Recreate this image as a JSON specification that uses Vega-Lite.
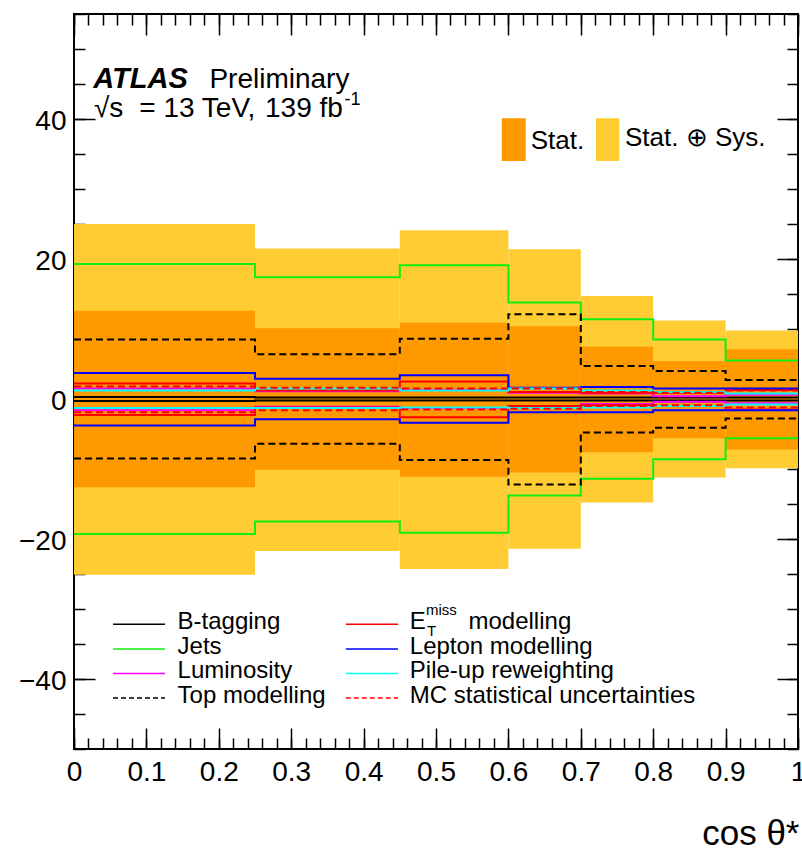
{
  "$schema": "https://vega.github.io/schema/vega-lite/v6.json",
  "width": 724,
  "height": 735,
  "autosize": "none",
  "padding": {"left": 74, "top": 14, "right": 4, "bottom": 102},
  "background": "white",
  "config": {
    "view": {"stroke": "black", "strokeWidth": 2},
    "font": "Liberation Sans, Arial, Helvetica, sans-serif",
    "axis": {
      "grid": false,
      "domain": false,
      "zindex": 2,
      "tickColor": "black",
      "tickWidth": 1.5,
      "labelColor": "black",
      "labelFont": "Liberation Sans, Arial, Helvetica, sans-serif",
      "labelFontSize": 28,
      "labelOverlap": false,
      "labelFlush": false,
      "title": null
    }
  },
  "datasets": {
    "bins": [
      {"lo": 0.0, "hi": 0.25, "stat_up": 12.6, "stat_dn": -12.6, "tot_up": 25.0, "tot_dn": -25.1},
      {"lo": 0.25, "hi": 0.45, "stat_up": 10.1, "stat_dn": -10.1, "tot_up": 21.5, "tot_dn": -21.7},
      {"lo": 0.45, "hi": 0.6, "stat_up": 10.9, "stat_dn": -11.1, "tot_up": 24.1, "tot_dn": -24.3},
      {"lo": 0.6, "hi": 0.7, "stat_up": 10.4, "stat_dn": -10.5, "tot_up": 21.4, "tot_dn": -21.4},
      {"lo": 0.7, "hi": 0.8, "stat_up": 7.5, "stat_dn": -7.6, "tot_up": 14.7, "tot_dn": -14.8},
      {"lo": 0.8, "hi": 0.9, "stat_up": 5.4, "stat_dn": -5.6, "tot_up": 11.2, "tot_dn": -11.2},
      {"lo": 0.9, "hi": 1.0, "stat_up": 7.1, "stat_dn": -7.2, "tot_up": 9.8, "tot_dn": -9.9}
    ],
    "syst": [
      {"sys": "B-tagging", "x": 0.0, "up": 0.3, "dn": -0.3},
      {"sys": "B-tagging", "x": 0.25, "up": 0.2, "dn": -0.2},
      {"sys": "B-tagging", "x": 0.45, "up": 0.2, "dn": -0.2},
      {"sys": "B-tagging", "x": 0.6, "up": 0.2, "dn": -0.2},
      {"sys": "B-tagging", "x": 0.7, "up": 0.2, "dn": -0.2},
      {"sys": "B-tagging", "x": 0.8, "up": 0.2, "dn": -0.2},
      {"sys": "B-tagging", "x": 0.9, "up": 0.2, "dn": -0.2},
      {"sys": "B-tagging", "x": 1.0, "up": 0.2, "dn": -0.2},
      {"sys": "Jets", "x": 0.0, "up": 19.3, "dn": -19.3},
      {"sys": "Jets", "x": 0.25, "up": 17.4, "dn": -17.5},
      {"sys": "Jets", "x": 0.45, "up": 19.1, "dn": -19.1},
      {"sys": "Jets", "x": 0.6, "up": 13.8, "dn": -13.8},
      {"sys": "Jets", "x": 0.7, "up": 11.4, "dn": -11.4},
      {"sys": "Jets", "x": 0.8, "up": 8.5, "dn": -8.6},
      {"sys": "Jets", "x": 0.9, "up": 5.5, "dn": -5.6},
      {"sys": "Jets", "x": 1.0, "up": 5.5, "dn": -5.6},
      {"sys": "Luminosity", "x": 0.0, "up": 1.5, "dn": -1.6},
      {"sys": "Luminosity", "x": 0.25, "up": 1.1, "dn": -1.1},
      {"sys": "Luminosity", "x": 0.45, "up": 1.3, "dn": -1.3},
      {"sys": "Luminosity", "x": 0.6, "up": 0.9, "dn": -1.0},
      {"sys": "Luminosity", "x": 0.7, "up": 0.8, "dn": -0.7},
      {"sys": "Luminosity", "x": 0.8, "up": 0.4, "dn": -0.4},
      {"sys": "Luminosity", "x": 0.9, "up": 0.6, "dn": -0.6},
      {"sys": "Luminosity", "x": 1.0, "up": 0.6, "dn": -0.6},
      {"sys": "Top modelling", "x": 0.0, "up": 8.5, "dn": -8.5},
      {"sys": "Top modelling", "x": 0.25, "up": 6.4, "dn": -6.4},
      {"sys": "Top modelling", "x": 0.45, "up": 8.6, "dn": -8.7},
      {"sys": "Top modelling", "x": 0.6, "up": 12.1, "dn": -12.2},
      {"sys": "Top modelling", "x": 0.7, "up": 4.7, "dn": -4.8},
      {"sys": "Top modelling", "x": 0.8, "up": 4.0, "dn": -4.1},
      {"sys": "Top modelling", "x": 0.9, "up": 2.7, "dn": -2.8},
      {"sys": "Top modelling", "x": 1.0, "up": 2.7, "dn": -2.8},
      {"sys": "Etmiss modelling", "x": 0.0, "up": 2.2, "dn": -2.3},
      {"sys": "Etmiss modelling", "x": 0.25, "up": 1.2, "dn": -1.2},
      {"sys": "Etmiss modelling", "x": 0.45, "up": 2.5, "dn": -2.6},
      {"sys": "Etmiss modelling", "x": 0.6, "up": 1.0, "dn": -1.0},
      {"sys": "Etmiss modelling", "x": 0.7, "up": 0.9, "dn": -0.9},
      {"sys": "Etmiss modelling", "x": 0.8, "up": 0.9, "dn": -1.0},
      {"sys": "Etmiss modelling", "x": 0.9, "up": 1.3, "dn": -1.5},
      {"sys": "Etmiss modelling", "x": 1.0, "up": 1.3, "dn": -1.5},
      {"sys": "Lepton modelling", "x": 0.0, "up": 3.7, "dn": -3.8},
      {"sys": "Lepton modelling", "x": 0.25, "up": 2.9, "dn": -2.9},
      {"sys": "Lepton modelling", "x": 0.45, "up": 3.4, "dn": -3.4},
      {"sys": "Lepton modelling", "x": 0.6, "up": 1.6, "dn": -1.9},
      {"sys": "Lepton modelling", "x": 0.7, "up": 1.7, "dn": -1.9},
      {"sys": "Lepton modelling", "x": 0.8, "up": 1.5, "dn": -1.6},
      {"sys": "Lepton modelling", "x": 0.9, "up": 1.5, "dn": -1.6},
      {"sys": "Lepton modelling", "x": 1.0, "up": 1.5, "dn": -1.6},
      {"sys": "Pile-up reweighting", "x": 0.0, "up": 1.2, "dn": -1.3},
      {"sys": "Pile-up reweighting", "x": 0.25, "up": 1.5, "dn": -1.3},
      {"sys": "Pile-up reweighting", "x": 0.45, "up": 1.2, "dn": -1.2},
      {"sys": "Pile-up reweighting", "x": 0.6, "up": 1.5, "dn": -1.3},
      {"sys": "Pile-up reweighting", "x": 0.7, "up": 1.2, "dn": -1.2},
      {"sys": "Pile-up reweighting", "x": 0.8, "up": 1.0, "dn": -1.0},
      {"sys": "Pile-up reweighting", "x": 0.9, "up": 0.8, "dn": -0.8},
      {"sys": "Pile-up reweighting", "x": 1.0, "up": 0.8, "dn": -0.8},
      {"sys": "MC statistical uncertainties", "x": 0.0, "up": 1.8, "dn": -1.9},
      {"sys": "MC statistical uncertainties", "x": 0.25, "up": 1.6, "dn": -1.6},
      {"sys": "MC statistical uncertainties", "x": 0.45, "up": 1.5, "dn": -1.5},
      {"sys": "MC statistical uncertainties", "x": 0.6, "up": 1.5, "dn": -1.4},
      {"sys": "MC statistical uncertainties", "x": 0.7, "up": 1.0, "dn": -1.0},
      {"sys": "MC statistical uncertainties", "x": 0.8, "up": 0.9, "dn": -0.9},
      {"sys": "MC statistical uncertainties", "x": 0.9, "up": 1.2, "dn": -1.2},
      {"sys": "MC statistical uncertainties", "x": 1.0, "up": 1.2, "dn": -1.2}
    ]
  },
  "resolve": {"axis": {"x": "independent", "y": "independent"}},
  "layer": [
    {
      "data": {"name": "bins"},
      "mark": {"type": "rect", "color": "#ffcc33"},
      "encoding": {
        "x": {"field": "lo", "type": "quantitative", "scale": {"domain": [0, 1], "nice": false, "zero": false},
              "axis": {"orient": "bottom", "values": [0, 0.1, 0.2, 0.3, 0.4, 0.5, 0.6, 0.7, 0.8, 0.9, 1], "format": "~g",
                       "tickSize": -21, "labelPadding": 30, "title": "cos θ*", "titleFontSize": 35, "titleFontWeight": "normal",
                       "titleColor": "black", "titleAlign": "right", "titleAnchor": "end", "titleBaseline": "alphabetic",
                       "titleX": 725, "titleY": 95}},
        "x2": {"field": "hi"},
        "y": {"field": "tot_dn", "type": "quantitative", "scale": {"domain": [-50, 55], "nice": false, "zero": false},
              "axis": {"orient": "left", "values": [-40, -20, 0, 20, 40], "tickSize": -21, "labelPadding": 29, "labelOffset": 2}},
        "y2": {"field": "tot_up"}
      }
    },
    {
      "data": {"name": "bins"},
      "mark": {"type": "rect", "color": "#ff9900"},
      "encoding": {
        "x": {"field": "lo", "type": "quantitative",
              "axis": {"orient": "bottom", "values": [0, 0.02, 0.04, 0.06, 0.08, 0.1, 0.12, 0.14, 0.16, 0.18, 0.2, 0.22, 0.24, 0.26, 0.28, 0.3, 0.32, 0.34, 0.36, 0.38, 0.4, 0.42, 0.44, 0.46, 0.48, 0.5, 0.52, 0.54, 0.56, 0.58, 0.6, 0.62, 0.64, 0.66, 0.68, 0.7, 0.72, 0.74, 0.76, 0.78, 0.8, 0.82, 0.84, 0.86, 0.88, 0.9, 0.92, 0.94, 0.96, 0.98, 1], "tickSize": -11, "labels": false}},
        "x2": {"field": "hi"},
        "y": {"field": "stat_dn", "type": "quantitative",
              "axis": {"orient": "left", "values": [-50, -45, -40, -35, -30, -25, -20, -15, -10, -5, 0, 5, 10, 15, 20, 25, 30, 35, 40, 45, 50, 55], "tickSize": -11, "labels": false}},
        "y2": {"field": "stat_up"}
      }
    },
    {
      "data": {"name": "syst"},
      "transform": [
        {"filter": "datum.sys !== 'Top modelling' && datum.sys !== 'MC statistical uncertainties'"},
        {"fold": ["up", "dn"], "as": ["side", "v"]}
      ],
      "mark": {"type": "line", "interpolate": "step-after", "strokeWidth": 2},
      "encoding": {
        "x": {"field": "x", "type": "quantitative",
              "axis": {"orient": "top", "values": [0, 0.1, 0.2, 0.3, 0.4, 0.5, 0.6, 0.7, 0.8, 0.9, 1], "tickSize": -21, "labels": false}},
        "y": {"field": "v", "type": "quantitative",
              "axis": {"orient": "right", "values": [-40, -20, 0, 20, 40], "tickSize": -21, "labels": false}},
        "color": {"field": "sys", "type": "nominal", "legend": null,
                  "scale": {"domain": ["B-tagging", "Jets", "Luminosity", "Top modelling", "Etmiss modelling", "Lepton modelling", "Pile-up reweighting", "MC statistical uncertainties"],
                            "range": ["#000000", "#11ee11", "#ff00ff", "#000000", "#ff0000", "#0000ff", "#00ffff", "#ff0000"]}},
        "detail": {"field": "side"}
      }
    },
    {
      "data": {"name": "syst"},
      "transform": [
        {"filter": "datum.sys === 'Top modelling' || datum.sys === 'MC statistical uncertainties'"},
        {"fold": ["up", "dn"], "as": ["side", "v"]}
      ],
      "mark": {"type": "line", "interpolate": "step-after", "strokeWidth": 2, "strokeDash": [7, 4]},
      "encoding": {
        "x": {"field": "x", "type": "quantitative",
              "axis": {"orient": "top", "values": [0, 0.02, 0.04, 0.06, 0.08, 0.1, 0.12, 0.14, 0.16, 0.18, 0.2, 0.22, 0.24, 0.26, 0.28, 0.3, 0.32, 0.34, 0.36, 0.38, 0.4, 0.42, 0.44, 0.46, 0.48, 0.5, 0.52, 0.54, 0.56, 0.58, 0.6, 0.62, 0.64, 0.66, 0.68, 0.7, 0.72, 0.74, 0.76, 0.78, 0.8, 0.82, 0.84, 0.86, 0.88, 0.9, 0.92, 0.94, 0.96, 0.98, 1], "tickSize": -11, "labels": false}},
        "y": {"field": "v", "type": "quantitative",
              "axis": {"orient": "right", "values": [-50, -45, -40, -35, -30, -25, -20, -15, -10, -5, 0, 5, 10, 15, 20, 25, 30, 35, 40, 45, 50, 55], "tickSize": -11, "labels": false}},
        "color": {"field": "sys", "type": "nominal", "legend": null},
        "detail": {"field": "side"}
      }
    },

    {"data": {"values": [{}]}, "mark": {"type": "text", "text": "ATLAS", "fontSize": 29, "fontWeight": "bold", "fontStyle": "italic", "align": "left", "baseline": "alphabetic", "color": "black"},
     "encoding": {"x": {"datum": 0.0267, "type": "quantitative", "axis": null}, "y": {"datum": 44.4, "type": "quantitative", "axis": null}}},
    {"data": {"values": [{}]}, "mark": {"type": "text", "text": "Preliminary", "fontSize": 28, "align": "left", "baseline": "alphabetic", "color": "black"},
     "encoding": {"x": {"datum": 0.187, "type": "quantitative", "axis": null}, "y": {"datum": 44.4, "type": "quantitative", "axis": null}}},
    {"data": {"values": [{}]}, "mark": {"type": "text", "text": "√s", "fontSize": 28, "align": "left", "baseline": "alphabetic", "color": "black"},
     "encoding": {"x": {"datum": 0.0276, "type": "quantitative", "axis": null}, "y": {"datum": 40.3, "type": "quantitative", "axis": null}}},
    {"data": {"values": [{}]}, "mark": {"type": "text", "text": "= 13 TeV,", "fontSize": 28, "align": "left", "baseline": "alphabetic", "color": "black"},
     "encoding": {"x": {"datum": 0.0902, "type": "quantitative", "axis": null}, "y": {"datum": 40.3, "type": "quantitative", "axis": null}}},
    {"data": {"values": [{}]}, "mark": {"type": "text", "text": "139 fb", "fontSize": 28, "align": "left", "baseline": "alphabetic", "color": "black"},
     "encoding": {"x": {"datum": 0.2638, "type": "quantitative", "axis": null}, "y": {"datum": 40.3, "type": "quantitative", "axis": null}}},
    {"data": {"values": [{}]}, "mark": {"type": "text", "text": "-1", "fontSize": 18, "align": "left", "baseline": "alphabetic", "dy": -12, "color": "black"},
     "encoding": {"x": {"datum": 0.3735, "type": "quantitative", "axis": null}, "y": {"datum": 40.3, "type": "quantitative", "axis": null}}},

    {"data": {"values": [{}]}, "mark": {"type": "rect", "color": "#ff9900"},
     "encoding": {"x": {"datum": 0.5908, "type": "quantitative", "axis": null}, "x2": {"datum": 0.6239},
                  "y": {"datum": 34.0, "type": "quantitative", "axis": null}, "y2": {"datum": 40.1}}},
    {"data": {"values": [{}]}, "mark": {"type": "text", "text": "Stat.", "fontSize": 26, "align": "left", "baseline": "alphabetic", "color": "black"},
     "encoding": {"x": {"datum": 0.6308, "type": "quantitative", "axis": null}, "y": {"datum": 35.67, "type": "quantitative", "axis": null}}},
    {"data": {"values": [{}]}, "mark": {"type": "rect", "color": "#ffcc33"},
     "encoding": {"x": {"datum": 0.721, "type": "quantitative", "axis": null}, "x2": {"datum": 0.7532},
                  "y": {"datum": 34.0, "type": "quantitative", "axis": null}, "y2": {"datum": 40.1}}},
    {"data": {"values": [{}]}, "mark": {"type": "text", "text": "Stat. ⊕ Sys.", "fontSize": 26, "align": "left", "baseline": "alphabetic", "color": "black"},
     "encoding": {"x": {"datum": 0.761, "type": "quantitative", "axis": null}, "y": {"datum": 36.14, "type": "quantitative", "axis": null}}},

    {"data": {"values": [{}]}, "mark": {"type": "rule", "color": "#000000", "strokeWidth": 1.5},
     "encoding": {"x": {"datum": 0.0539, "type": "quantitative", "axis": null}, "x2": {"datum": 0.1257}, "y": {"datum": -32.19, "type": "quantitative", "axis": null}}},
    {"data": {"values": [{}]}, "mark": {"type": "text", "text": "B-tagging", "fontSize": 24, "align": "left", "baseline": "alphabetic", "dy": 5, "color": "black"},
     "encoding": {"x": {"datum": 0.143, "type": "quantitative", "axis": null}, "y": {"datum": -32.19, "type": "quantitative", "axis": null}}},
    {"data": {"values": [{}]}, "mark": {"type": "rule", "color": "#11ee11", "strokeWidth": 1.5},
     "encoding": {"x": {"datum": 0.0539, "type": "quantitative", "axis": null}, "x2": {"datum": 0.1257}, "y": {"datum": -35.7, "type": "quantitative", "axis": null}}},
    {"data": {"values": [{}]}, "mark": {"type": "text", "text": "Jets", "fontSize": 24, "align": "left", "baseline": "alphabetic", "dy": 5, "color": "black"},
     "encoding": {"x": {"datum": 0.143, "type": "quantitative", "axis": null}, "y": {"datum": -35.7, "type": "quantitative", "axis": null}}},
    {"data": {"values": [{}]}, "mark": {"type": "rule", "color": "#ff00ff", "strokeWidth": 1.5},
     "encoding": {"x": {"datum": 0.0539, "type": "quantitative", "axis": null}, "x2": {"datum": 0.1257}, "y": {"datum": -39.21, "type": "quantitative", "axis": null}}},
    {"data": {"values": [{}]}, "mark": {"type": "text", "text": "Luminosity", "fontSize": 24, "align": "left", "baseline": "alphabetic", "dy": 5, "color": "black"},
     "encoding": {"x": {"datum": 0.143, "type": "quantitative", "axis": null}, "y": {"datum": -39.21, "type": "quantitative", "axis": null}}},
    {"data": {"values": [{}]}, "mark": {"type": "rule", "color": "#000000", "strokeWidth": 1.5, "strokeDash": [5, 3]},
     "encoding": {"x": {"datum": 0.0539, "type": "quantitative", "axis": null}, "x2": {"datum": 0.1257}, "y": {"datum": -42.73, "type": "quantitative", "axis": null}}},
    {"data": {"values": [{}]}, "mark": {"type": "text", "text": "Top modelling", "fontSize": 24, "align": "left", "baseline": "alphabetic", "dy": 5, "color": "black"},
     "encoding": {"x": {"datum": 0.143, "type": "quantitative", "axis": null}, "y": {"datum": -42.73, "type": "quantitative", "axis": null}}},

    {"data": {"values": [{}]}, "mark": {"type": "rule", "color": "#ff0000", "strokeWidth": 1.5},
     "encoding": {"x": {"datum": 0.3754, "type": "quantitative", "axis": null}, "x2": {"datum": 0.4475}, "y": {"datum": -32.19, "type": "quantitative", "axis": null}}},
    {"data": {"values": [{}]}, "mark": {"type": "text", "text": "E", "fontSize": 24, "align": "left", "baseline": "alphabetic", "dy": 5, "color": "black"},
     "encoding": {"x": {"datum": 0.4638, "type": "quantitative", "axis": null}, "y": {"datum": -32.19, "type": "quantitative", "axis": null}}},
    {"data": {"values": [{}]}, "mark": {"type": "text", "text": "T", "fontSize": 15, "align": "left", "baseline": "alphabetic", "dy": 12, "color": "black"},
     "encoding": {"x": {"datum": 0.4876, "type": "quantitative", "axis": null}, "y": {"datum": -32.19, "type": "quantitative", "axis": null}}},
    {"data": {"values": [{}]}, "mark": {"type": "text", "text": "miss", "fontSize": 15, "align": "left", "baseline": "alphabetic", "dy": -9, "color": "black"},
     "encoding": {"x": {"datum": 0.4862, "type": "quantitative", "axis": null}, "y": {"datum": -32.19, "type": "quantitative", "axis": null}}},
    {"data": {"values": [{}]}, "mark": {"type": "text", "text": "modelling", "fontSize": 24, "align": "left", "baseline": "alphabetic", "dy": 5, "color": "black"},
     "encoding": {"x": {"datum": 0.5449, "type": "quantitative", "axis": null}, "y": {"datum": -32.19, "type": "quantitative", "axis": null}}},
    {"data": {"values": [{}]}, "mark": {"type": "rule", "color": "#0000ff", "strokeWidth": 1.5},
     "encoding": {"x": {"datum": 0.3754, "type": "quantitative", "axis": null}, "x2": {"datum": 0.4475}, "y": {"datum": -35.7, "type": "quantitative", "axis": null}}},
    {"data": {"values": [{}]}, "mark": {"type": "text", "text": "Lepton modelling", "fontSize": 24, "align": "left", "baseline": "alphabetic", "dy": 5, "color": "black"},
     "encoding": {"x": {"datum": 0.4638, "type": "quantitative", "axis": null}, "y": {"datum": -35.7, "type": "quantitative", "axis": null}}},
    {"data": {"values": [{}]}, "mark": {"type": "rule", "color": "#00ffff", "strokeWidth": 1.5},
     "encoding": {"x": {"datum": 0.3754, "type": "quantitative", "axis": null}, "x2": {"datum": 0.4475}, "y": {"datum": -39.21, "type": "quantitative", "axis": null}}},
    {"data": {"values": [{}]}, "mark": {"type": "text", "text": "Pile-up reweighting", "fontSize": 24, "align": "left", "baseline": "alphabetic", "dy": 5, "color": "black"},
     "encoding": {"x": {"datum": 0.4638, "type": "quantitative", "axis": null}, "y": {"datum": -39.21, "type": "quantitative", "axis": null}}},
    {"data": {"values": [{}]}, "mark": {"type": "rule", "color": "#ff0000", "strokeWidth": 1.5, "strokeDash": [5, 3]},
     "encoding": {"x": {"datum": 0.3754, "type": "quantitative", "axis": null}, "x2": {"datum": 0.4475}, "y": {"datum": -42.73, "type": "quantitative", "axis": null}}},
    {"data": {"values": [{}]}, "mark": {"type": "text", "text": "MC statistical uncertainties", "fontSize": 24, "align": "left", "baseline": "alphabetic", "dy": 5, "color": "black"},
     "encoding": {"x": {"datum": 0.4638, "type": "quantitative", "axis": null}, "y": {"datum": -42.73, "type": "quantitative", "axis": null}}}
  ]
}
